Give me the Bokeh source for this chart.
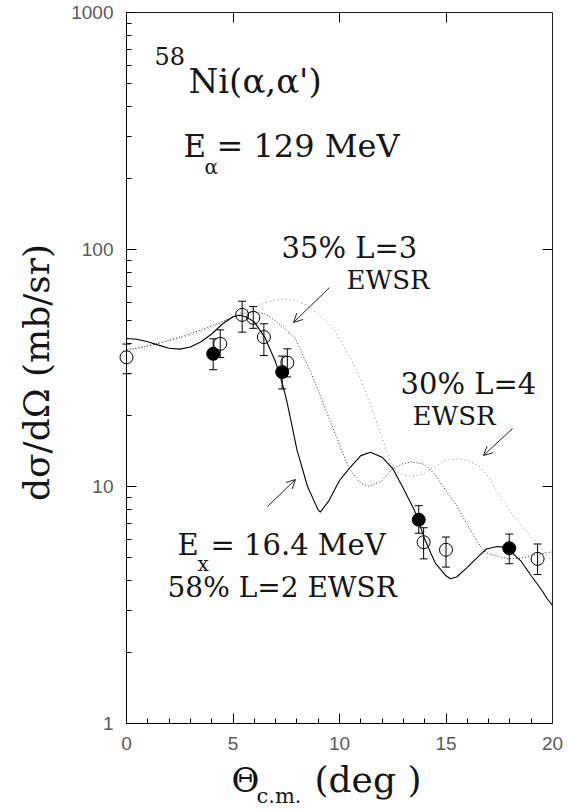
import math
from bokeh.plotting import figure
from bokeh.models import (FixedTicker, LinearAxis, LogAxis, Whisker, ColumnDataSource,
                          Label, Arrow, OpenHead, TeeHead, BasicTickFormatter)
from bokeh.embed import file_html
from bokeh.resources import INLINE

# ---------------- data ----------------
x_ticks = [0, 5, 10, 15, 20]
x_minor = [i for i in range(1, 20)]
y_ticks = [1, 10, 100, 1000]
y_minor = [m * 10 ** e for e in range(0, 3) for m in range(2, 10)]

# open circles
open_x = [0.0, 4.4, 5.43, 5.95, 6.45, 7.55, 13.95, 15.0, 19.3]
open_y = [35.1, 40.0, 53.0, 51.5, 42.7, 33.3, 5.82, 5.41, 4.95]
open_hi = [39.9, 45.8, 60.5, 57.5, 48.6, 38.1, 6.7, 6.12, 5.72]
open_lo = [29.9, 35.0, 44.8, 46.5, 35.7, 29.0, 4.95, 4.57, 4.25]

# filled circles
full_x = [4.07, 7.31, 13.72, 17.97]
full_y = [36.3, 30.4, 7.24, 5.49]
full_hi = [42.0, 35.5, 8.3, 6.3]
full_lo = [31.1, 25.8, 6.35, 4.72]

# L=2 (solid)
l2_x = [0, 0.5, 1, 1.5, 2, 2.5, 3, 3.5, 4, 4.5, 5, 5.3, 5.6, 6, 6.5, 7, 7.3, 7.5, 7.8, 8,
        8.5, 9, 9.1, 9.5, 10, 10.45, 11, 11.45, 12, 12.5, 13, 13.5, 13.7, 14, 14.3, 14.5,
        15, 15.2, 15.5, 16, 16.5, 16.9, 17.4, 17.7, 18, 18.5, 19, 19.5, 19.75, 20]
l2_y = [42.1, 41.8, 40.8, 39.5, 38.3, 38.0, 38.8, 40.8, 44.0, 48.5, 52.0, 52.8, 52.0, 49.5,
        42.5, 33.5, 27.5, 23.5, 17.5, 14.3, 10.0, 7.95, 7.8, 8.7, 10.6, 11.9, 13.5, 13.95,
        13.3, 11.9, 9.8, 8.0, 7.2, 6.0, 5.2, 4.75, 4.2, 4.08, 4.15, 4.56, 5.05, 5.45, 5.58,
        5.55, 5.35, 4.87, 4.2, 3.65, 3.36, 3.15]

# L=3 (dense dots)
l3_x = [0, 0.5, 1, 1.5, 2, 2.5, 3, 3.5, 4, 4.5, 5, 5.5, 6, 6.5, 7, 7.5, 7.9, 8.3, 8.5, 9,
        9.5, 10, 10.45, 11, 11.4, 12, 12.5, 13, 13.4, 14, 14.5, 15, 15.5, 16, 16.5, 16.8,
        17, 17.5, 18, 18.5, 19, 19.5, 20]
l3_y = [37.8, 38.3, 39.2, 40.2, 41.4, 42.7, 44.2, 45.8, 47.6, 49.6, 51.8, 53.8, 54.5, 53.5,
        50.0, 45.5, 42.5, 35.5, 32.5, 25.5, 19.5, 15.0, 11.9, 10.3, 10.0, 10.6, 11.9, 12.5,
        12.7, 12.4, 11.2, 9.6, 8.3, 6.9, 5.8, 5.35, 5.2, 5.05, 4.95, 4.98, 5.1, 5.2, 5.3]

# L=4 (sparse dots)
l4_x = [0, 1, 2, 3, 4, 4.5, 5, 5.5, 6, 6.5, 7, 7.4, 8, 8.5, 8.8, 9, 9.5, 9.75, 10, 10.5,
        11, 11.15, 11.5, 11.8, 12, 12.4, 12.7, 13, 13.5, 14, 14.5, 15, 15.5, 16, 16.6, 17,
        17.55, 18, 18.35, 19, 19.6, 20]
l4_y = [37.8, 39.2, 41.2, 43.5, 47.0, 49.5, 52.0, 55.0, 57.0, 59.5, 61.2, 61.9, 60.5, 58.0,
        55.3, 53.5, 48.5, 45.5, 42.0, 35.1, 28.2, 26.2, 21.5, 18.1, 16.1, 12.5, 11.5, 11.2,
        11.0, 11.4, 12.2, 12.9, 13.1, 12.9, 12.1, 11.0, 9.0, 7.9, 7.2, 6.1, 5.28, 4.85]

# ---------------- layout ----------------
W, H = 568, 809
X0, X1 = 0, 20
Y0, Y1 = 1, 1000
# axis box position on the canvas (pixels)
BOX_L, BOX_R, BOX_T, BOX_B = 126, 552, 12, 723

ppx = (BOX_R - BOX_L) / (X1 - X0)
ppd = (BOX_B - BOX_T) / (math.log10(Y1) - math.log10(Y0))
xr = (X0 - BOX_L / ppx, X1 + (W - BOX_R) / ppx)
yr = (10 ** (math.log10(Y0) - (H - BOX_B) / ppd), 10 ** (math.log10(Y1) + BOX_T / ppd))


def d(px, py):
    """canvas pixel -> data coordinates (used for text / arrow placement)"""
    x = X0 + (px - BOX_L) / ppx
    y = 10 ** (math.log10(Y0) + (BOX_B - py) / ppd)
    return x, y


p = figure(width=W, height=H, x_range=xr, y_range=yr, y_axis_type="log",
           output_backend="svg", toolbar_location=None,
           min_border_left=0, min_border_right=0, min_border_top=0, min_border_bottom=0)
p.grid.visible = False
p.outline_line_color = None
p.background_fill_color = "white"
p.border_fill_color = "white"

TICK_FONT = "Liberation Sans"
TICK_COL = "#5a5a5a"

xa = p.xaxis[0]
xa.ticker = FixedTicker(ticks=x_ticks, minor_ticks=x_minor)
xa.fixed_location = Y0
xa.bounds = (X0, X1)
ya = p.yaxis[0]
ya.ticker = FixedTicker(ticks=y_ticks, minor_ticks=y_minor)
ya.formatter = BasicTickFormatter()
ya.fixed_location = X0
ya.bounds = (Y0, Y1)
for ax in (xa, ya):
    ax.major_tick_in = 10
    ax.major_tick_out = 0
    ax.minor_tick_in = 5
    ax.minor_tick_out = 0
    ax.axis_line_color = "black"
    ax.major_tick_line_color = "black"
    ax.minor_tick_line_color = "black"
    ax.major_label_text_font = TICK_FONT
    ax.major_label_text_font_size = "19px"
    ax.major_label_text_color = TICK_COL
    ax.major_label_standoff = 13

top = LinearAxis(ticker=FixedTicker(ticks=[5, 10, 15], minor_ticks=[]),
                 major_label_overrides={5: "", 10: "", 15: ""},
                 fixed_location=Y1, bounds=(X0, X1),
                 major_tick_in=10, major_tick_out=0, minor_tick_in=0, minor_tick_out=0,
                 major_label_standoff=0, major_label_text_font_size="1px",
                 axis_line_color="#222222")
p.add_layout(top, "above")
right = LogAxis(ticker=FixedTicker(ticks=[10, 100], minor_ticks=[]),
                major_label_overrides={10: "", 100: ""},
                fixed_location=X1, bounds=(Y0, Y1),
                major_tick_in=10, major_tick_out=0, minor_tick_in=0, minor_tick_out=0,
                major_label_standoff=0, major_label_text_font_size="1px",
                axis_line_color="#222222")
p.add_layout(right, "right")

# curves
p.line(l4_x, l4_y, line_color="#8a8a8a", line_width=1, line_dash="1 3")
p.line(l3_x, l3_y, line_color="#333333", line_width=1, line_dash="1 2")
p.line(l2_x, l2_y, line_color="black", line_width=1.1)

# error bars
src_o = ColumnDataSource(dict(x=open_x, y=open_y, hi=open_hi, lo=open_lo))
src_f = ColumnDataSource(dict(x=full_x, y=full_y, hi=full_hi, lo=full_lo))
for src in (src_o, src_f):
    p.add_layout(Whisker(source=src, base="x", upper="hi", lower="lo", dimension="height",
                         line_color="black", line_width=1,
                         upper_head=TeeHead(size=8, line_color="black", line_width=1),
                         lower_head=TeeHead(size=8, line_color="black", line_width=1)))

p.scatter("x", "y", source=src_o, size=13, marker="circle", fill_color=None,
          line_color="black", line_width=1)
p.scatter("x", "y", source=src_f, size=13, marker="circle", fill_color="black",
          line_color="black")

# texts
SERIF = "DejaVu Serif"


def txt(px, py, s, size, align="left", angle=0.0):
    x, y = d(px, py)
    p.add_layout(Label(x=x, y=y, text=s, text_font=SERIF, text_font_size=f"{size}px",
                       text_color="#151515", text_align=align, text_baseline="middle",
                       angle=angle))


txt(154, 55, "58", 24)
txt(188, 80, "Ni(α,α')", 34)
txt(183, 145, "E", 31)
txt(204, 166, "α", 20)
txt(216, 145, "= 129 MeV", 32)

txt(281, 247, "35% L=3", 29)
txt(346, 279, "EWSR", 26)
txt(400, 383, "30% L=4", 29)
txt(412, 415, "EWSR", 26)
txt(177, 544, "E", 29)
txt(197, 563, "x", 20)
txt(210, 544, "= 16.4 MeV", 29)
txt(167, 587, "58% L=2 EWSR", 28)

# axis titles
txt(36, 372, "dσ/dΩ (mb/sr)", 36, align="center", angle=math.pi / 2)
txt(231, 779, "Θ", 34)
txt(256, 795, "c.m.", 21)
txt(314, 779, "(deg )", 36)

# arrows
for (sx, sy, ex, ey) in [(329, 287, 293, 322), (512, 428, 483, 455), (267, 506, 295, 479)]:
    a, b = d(sx, sy)
    c, e = d(ex, ey)
    p.add_layout(Arrow(x_start=a, y_start=b, x_end=c, y_end=e, line_color="#222222",
                       line_width=1, end=OpenHead(size=9, line_color="#222222", line_width=1)))

open("out.html", "w").write(file_html(p, INLINE))
